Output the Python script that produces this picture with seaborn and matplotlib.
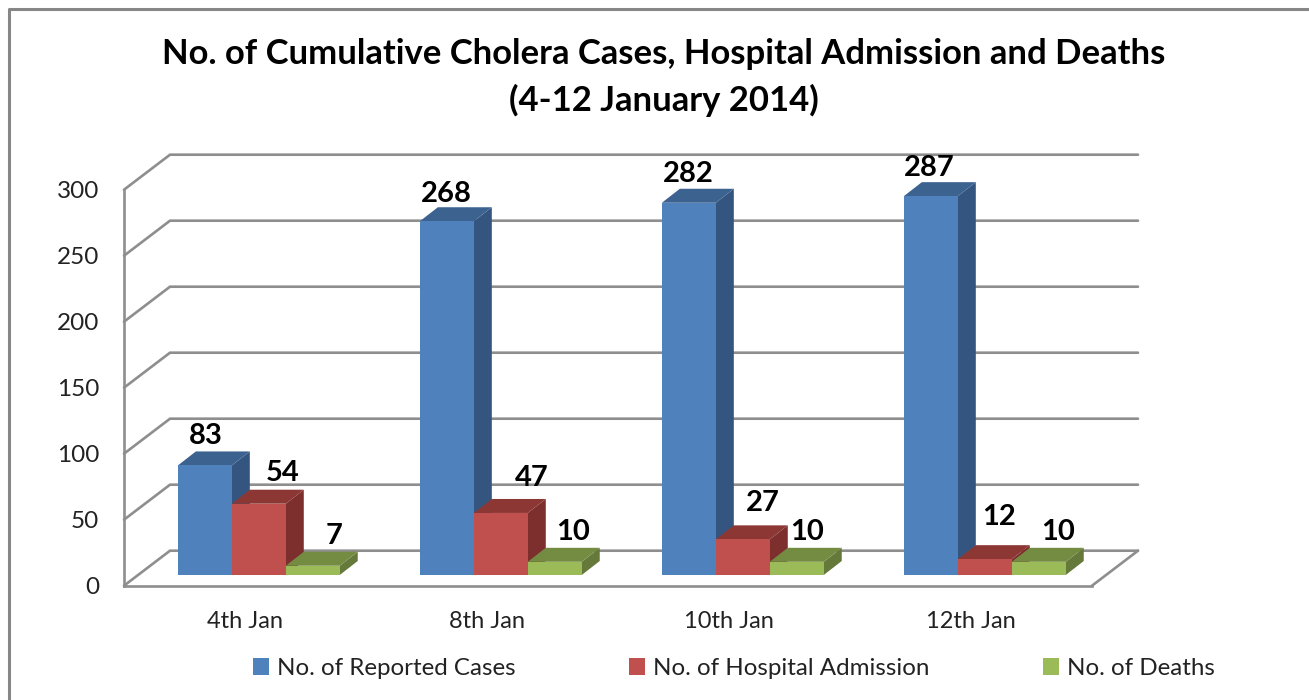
import matplotlib
matplotlib.use("Agg")
import matplotlib.pyplot as plt
import pandas as pd
import seaborn as sns
from matplotlib.lines import Line2D
from matplotlib.patches import Polygon

dates = ["4th Jan", "8th Jan", "10th Jan", "12th Jan"]
series_names = ["No. of Reported Cases", "No. of Hospital Admission", "No. of Deaths"]
reported = [83, 268, 282, 287]
admissions = [54, 47, 27, 12]
deaths = [7, 10, 10, 10]
y_ticks = [0, 50, 100, 150, 200, 250, 300]

front_colors = ["#4F81BD", "#C0504D", "#9BBB59"]
side_colors = ["#34557F", "#7C2F2D", "#657A3A"]
top_colors = ["#3C6390", "#8D3735", "#748C42"]
grid_color = "#8E8E8E"

# pixel nudges for the labels, the original ones were placed by hand
label_dx = [[1, -1, -1, -2], [24, 31, 20, 14], [21, 18, 10, 19]]
label_dy = [[29, 27, 29, 28], [31, 35, 36, 42], [30, 30, 30, 30]]

W, H = 1309, 700


def px_axes(fig, left, top, right, bottom):
    ax = fig.add_axes([left / W, 1 - bottom / H, (right - left) / W, (bottom - top) / H])
    ax.patch.set_alpha(0)
    return ax


sns.set_theme(style="white")
plt.rcParams["font.family"] = ["Lato", "DejaVu Sans"]

df = pd.DataFrame({
    "date": dates * 3,
    "series": [s for s in series_names for _ in dates],
    "value": reported + admissions + deaths,
})

fig = plt.figure(figsize=(W / 100, H / 100), dpi=100, facecolor="white")

# front plane of the fake 3d box, this one holds the axis text and the walls
wall_ax = px_axes(fig, 124, 189.7, 1092, 585.7)
wall_ax.set_xlim(-0.5, 3.5)
wall_ax.set_ylim(0, 300)
wall_ax.set_xticks(range(len(dates)), dates)
wall_ax.set_yticks(y_ticks)
wall_ax.tick_params(axis="y", length=0, pad=18, labelsize=17.5, labelcolor="#222222")
wall_ax.tick_params(axis="x", length=0, pad=18, labelsize=17, labelcolor="#222222")
sns.despine(ax=wall_ax, top=True, right=True)
wall_ax.spines["left"].set(color=grid_color, linewidth=1.9)
wall_ax.spines["bottom"].set(color=grid_color, linewidth=1.9)

depth_x = 46 / 242
depth_y = 35 / 1.32
for tick in y_ticks:
    wall_ax.plot([-0.5, -0.5 + depth_x, 3.5 + depth_x], [tick, tick + depth_y, tick + depth_y],
                 color=grid_color, linewidth=1.9, clip_on=False, solid_joinstyle="miter")
wall_ax.plot([3.5, 3.5 + depth_x], [0, depth_y], color=grid_color, linewidth=1.9, clip_on=False)

# bars sit a little behind the front plane
bar_ax = px_axes(fig, 137.8, 179, 1105.8, 575)
sns.barplot(data=df, x="date", y="value", hue="series", order=dates, hue_order=series_names,
            palette=front_colors, saturation=1, width=0.669, gap=0, linewidth=0, ax=bar_ax)
bar_ax.set_xlim(-0.5, 3.5)
bar_ax.set_ylim(0, 300)
bar_ax.axis("off")

bar_dx = 18 / 242
bar_dy = 14 / 1.32
for i, container in enumerate(bar_ax.containers):
    for j, bar in enumerate(container):
        x0, x1 = bar.get_x(), bar.get_x() + bar.get_width()
        h = bar.get_height()
        bar.set_zorder(10)
        side = [(x1, 0), (x1 + bar_dx, bar_dy), (x1 + bar_dx, h + bar_dy), (x1, h)]
        top = [(x0, h), (x0 + bar_dx, h + bar_dy), (x1 + bar_dx, h + bar_dy), (x1, h)]
        bar_ax.add_patch(Polygon(side, facecolor=side_colors[i], edgecolor="none", zorder=3 + i, clip_on=False))
        bar_ax.add_patch(Polygon(top, facecolor=top_colors[i], edgecolor="none", zorder=3 + i, clip_on=False))
        bar_ax.annotate(f"{h:.0f}", ((x0 + x1) / 2, h), xytext=(label_dx[i][j], label_dy[i][j]),
                        textcoords="offset pixels", ha="center", va="center", fontsize=21,
                        fontweight="bold", color="black", zorder=20, annotation_clip=False)

handles, labels = bar_ax.get_legend_handles_labels()
bar_ax.get_legend().remove()
fig.legend(handles, labels, ncol=3, loc="center", bbox_to_anchor=(734 / W, 1 - 668.5 / H), frameon=False,
           fontsize=17.4, labelcolor="#222222", handlelength=0.66, handleheight=0.66,
           handletextpad=0.33, columnspacing=4.7, borderpad=0)

fig.text(664 / W, 1 - 54 / H, "No. of Cumulative Cholera Cases, Hospital Admission and Deaths",
         ha="center", va="center", fontsize=24.9, fontweight="bold", color="black")
fig.text(664 / W, 1 - 100 / H, "(4-12 January 2014)",
         ha="center", va="center", fontsize=24.9, fontweight="bold", color="black")

# only the top and left of the chart frame are in the crop
fig.add_artist(Line2D([8.5 / W, 8.5 / W, 1], [0, 1 - 8.5 / H, 1 - 8.5 / H], color="#868686", linewidth=2.2,
                      transform=fig.transFigure))

fig.savefig("out.png", dpi=100)
plt.close(fig)
